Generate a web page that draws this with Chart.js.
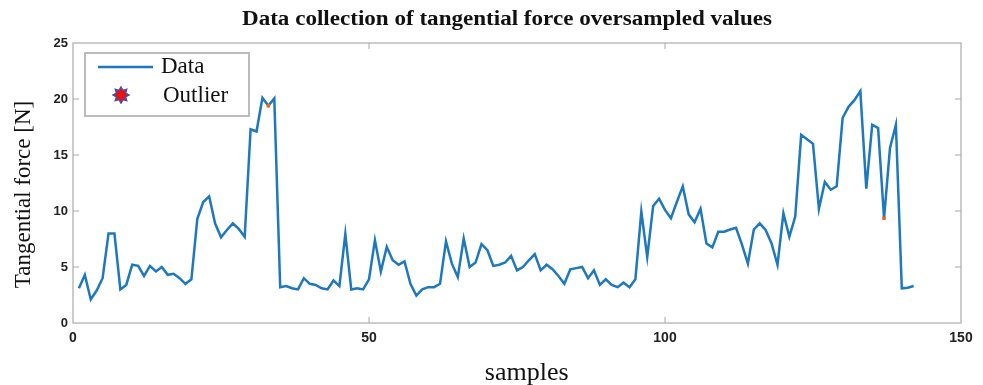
<!DOCTYPE html>
<html>
<head>
<meta charset="utf-8">
<script src="https://cdn.jsdelivr.net/npm/chart.js@4.4.1/dist/chart.umd.min.js"></script>
<style>
  body { margin: 0; background: #fff; }
  canvas { display: block; }
</style>
</head>
<body>
<canvas id="force-chart" width="983" height="385"></canvas>
<script>
// tangential force per sample (sample index starts at 1)
const forceValues = [
  3.1, 4.3, 2.1, 2.9, 4.0, 8.0, 8.0, 3.0, 3.4, 5.2,
  5.1, 4.2, 5.1, 4.6, 5.0, 4.3, 4.4, 4.0, 3.5, 3.9,
  9.3, 10.8, 11.3, 8.9, 7.65, 8.3, 8.9, 8.4, 7.7, 17.3,
  17.1, 20.1, 19.4, 20.05, 3.2, 3.3, 3.1, 3.0, 4.0, 3.5,
  3.4, 3.1, 3.0, 3.8, 3.3, 7.95, 3.0, 3.1, 3.0, 3.9,
  7.4, 4.6, 6.8, 5.6, 5.2, 5.5, 3.5, 2.45, 3.0, 3.2,
  3.2, 3.5, 7.3, 5.3, 4.1, 7.55, 5.0, 5.4, 7.05, 6.5,
  5.1, 5.2, 5.4, 6.0, 4.7, 5.0, 5.6, 6.15, 4.7, 5.2,
  4.8, 4.2, 3.5, 4.8, 4.9, 5.0, 4.0, 4.7, 3.4, 3.9,
  3.4, 3.2, 3.6, 3.2, 3.9, 9.95, 5.9, 10.45, 11.1, 10.1,
  9.35, 10.8, 12.2, 9.7, 9.0, 10.2, 7.1, 6.75, 8.15, 8.15,
  8.35, 8.5, 7.0, 5.3, 8.35, 8.9, 8.3, 7.1, 5.2, 9.8,
  7.7, 9.5, 16.8, 16.4, 16.0, 10.2, 12.6, 11.9, 12.2, 18.3,
  19.3, 19.9, 20.7, 12.0, 17.7, 17.4, 9.35, 15.6, 17.7, 3.1,
  3.15, 3.3
];
const outlierSamples = [33, 137];
const outlierValues = [19.4, 9.35];

const xTicks = [0, 50, 100, 150];
const yTicks = [0, 5, 10, 15, 20, 25];

const legendLabels = ["Data", "Outlier"];
const chartTitle = "Data collection of tangential force oversampled values";

const lineColor = "rgb(30, 120, 190)";
const outlierColor = "rgb(232, 100, 40)";
const frameColor = "#bcbcbc";
const serif = "'Liberation Serif', 'Times New Roman', serif";
const sans = "'Liberation Sans', Arial, sans-serif";

// red star with blue rim, only used in the legend
function makeStar(size) {
  const c = document.createElement("canvas");
  c.width = size;
  c.height = size;
  const g = c.getContext("2d");
  const cx = size / 2, cy = size / 2;
  const outer = size / 2 - 1, inner = outer * 0.62;
  const spikes = 8;
  g.beginPath();
  for (let i = 0; i < spikes * 2; i++) {
    const r = i % 2 === 0 ? outer : inner;
    const a = (Math.PI * i) / spikes - Math.PI / 2;
    const px = cx + r * Math.cos(a);
    const py = cy + r * Math.sin(a);
    if (i === 0) g.moveTo(px, py);
    else g.lineTo(px, py);
  }
  g.closePath();
  g.fillStyle = "#ee1010";
  g.fill();
  g.lineWidth = 1.5;
  g.strokeStyle = "#4a4aa8";
  g.stroke();
  return c;
}
const starIcon = makeStar(18);

// title, plot frame, inner tick marks and the boxed legend
const framePlugin = {
  id: "frame",
  afterDraw(chart) {
    const { ctx, chartArea: a, scales } = chart;
    ctx.save();

    // title, stretched a little to the width of the original
    ctx.font = "bold 20px " + serif;
    ctx.fillStyle = "#111";
    ctx.textAlign = "center";
    ctx.textBaseline = "middle";
    const w = ctx.measureText(chartTitle).width;
    ctx.save();
    ctx.translate(507, 20);
    ctx.scale(530 / w, 1);
    ctx.fillText(chartTitle, 0, 0);
    ctx.restore();

    ctx.strokeStyle = frameColor;
    ctx.lineWidth = 1.5;
    ctx.strokeRect(a.left, a.top, a.right - a.left, a.bottom - a.top);

    ctx.lineWidth = 1;
    ctx.strokeStyle = "#a8a8a8";
    ctx.beginPath();
    xTicks.forEach((t) => {
      if (t === xTicks[0] || t === xTicks[xTicks.length - 1]) return;
      const px = scales.x.getPixelForValue(t);
      ctx.moveTo(px, a.bottom); ctx.lineTo(px, a.bottom - 6);
      ctx.moveTo(px, a.top); ctx.lineTo(px, a.top + 6);
    });
    yTicks.forEach((t) => {
      if (t === yTicks[0] || t === yTicks[yTicks.length - 1]) return;
      const py = scales.y.getPixelForValue(t);
      ctx.moveTo(a.left, py); ctx.lineTo(a.left + 6, py);
      ctx.moveTo(a.right, py); ctx.lineTo(a.right - 6, py);
    });
    ctx.stroke();

    // legend box
    const lx = a.left + 12, ly = a.top + 10, lw = 164, lh = 63;
    ctx.fillStyle = "#fff";
    ctx.fillRect(lx, ly, lw, lh);
    ctx.strokeStyle = frameColor;
    ctx.lineWidth = 2;
    ctx.strokeRect(lx, ly, lw, lh);

    ctx.strokeStyle = lineColor;
    ctx.lineWidth = 2.5;
    ctx.beginPath();
    ctx.moveTo(lx + 13, ly + 14);
    ctx.lineTo(lx + 68, ly + 14);
    ctx.stroke();
    ctx.drawImage(starIcon, lx + 27, ly + 33);

    ctx.fillStyle = "#111";
    ctx.font = "23px " + serif;
    ctx.textAlign = "left";
    ctx.textBaseline = "middle";
    ctx.fillText(legendLabels[0], lx + 76, ly + 14);
    ctx.fillText(legendLabels[1], lx + 78, ly + 43);
    ctx.restore();
  },
};

const ctx = document.getElementById("force-chart");

new Chart(ctx, {
  type: "line",
  data: {
    datasets: [
      {
        label: legendLabels[1],
        data: outlierSamples.map((s, i) => ({ x: s, y: outlierValues[i] })),
        showLine: false,
        pointStyle: "rect",
        pointRadius: 2.5,
        backgroundColor: outlierColor,
        borderWidth: 0,
        order: 0,
      },
      {
        label: legendLabels[0],
        data: forceValues.map((v, i) => ({ x: i + 1, y: v })),
        borderColor: lineColor,
        borderWidth: 2.5,
        pointRadius: 0,
        tension: 0,
        fill: false,
        order: 1,
      },
    ],
  },
  options: {
    responsive: false,
    animation: false,
    layout: { padding: { left: 0, right: 22, top: 43, bottom: 0 } },
    plugins: {
      legend: { display: false },
      tooltip: { enabled: false },
      title: { display: false },
    },
    scales: {
      x: {
        type: "linear",
        min: 0,
        max: 150,
        afterBuildTicks: (scale) => {
          scale.ticks = xTicks.map((v) => ({ value: v }));
        },
        afterFit: (scale) => {
          scale.height = 62;
        },
        grid: { display: false, drawTicks: false, tickLength: 0 },
        border: { display: false },
        ticks: {
          padding: 7,
          color: "#222",
          font: { family: sans, size: 14, weight: "bold" },
        },
        title: {
          display: true,
          text: "\u00a0\u00a0\u00a0samples",
          color: "#111",
          font: { family: serif, size: 26 },
          padding: { top: 0, bottom: -4 },
        },
      },
      y: {
        min: 0,
        max: 25,
        afterBuildTicks: (scale) => {
          scale.ticks = yTicks.map((v) => ({ value: v }));
        },
        afterFit: (scale) => {
          scale.width = 73;
        },
        grid: { display: false, drawTicks: false, tickLength: 0 },
        border: { display: false },
        ticks: {
          padding: 5,
          color: "#222",
          font: { family: sans, size: 13, weight: "bold" },
        },
        title: {
          display: true,
          text: "Tangential force [N]\u00a0\u00a0\u00a0\u00a0",
          color: "#111",
          font: { family: serif, size: 23 },
          padding: { top: 10, bottom: 0 },
        },
      },
    },
  },
  plugins: [framePlugin],
});
</script>
</body>
</html>
